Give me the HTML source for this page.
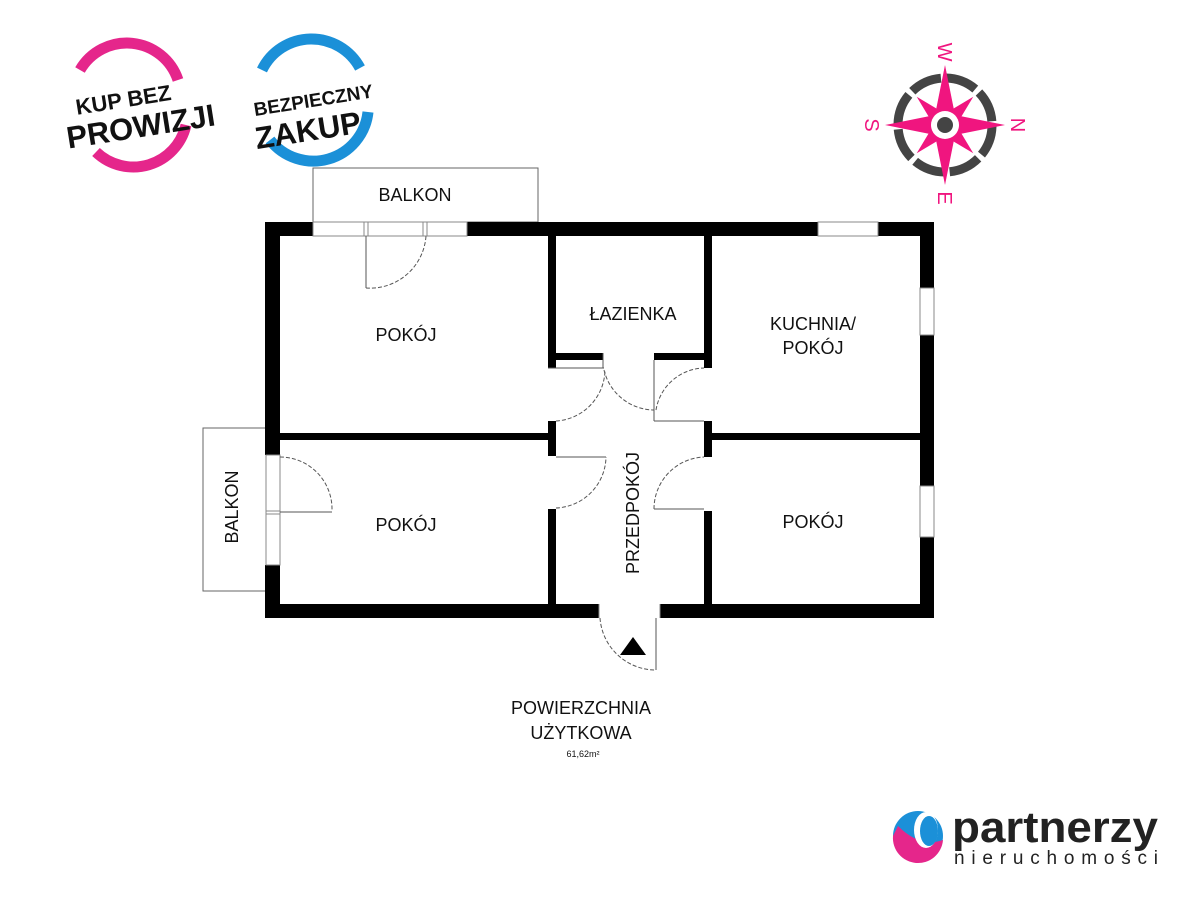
<!DOCTYPE html>
<html><head><meta charset="utf-8"><style>
body{margin:0;background:#fff;}
svg{display:block}
text{font-family:"Liberation Sans",sans-serif;}
</style></head><body>
<svg width="1200" height="900" viewBox="0 0 1200 900" xmlns="http://www.w3.org/2000/svg">
<rect width="1200" height="900" fill="#fff"/>
<!-- logos -->
<g>
<path d="M80,70 A54,54 0 0 1 178,80" fill="none" stroke="#e5268b" stroke-width="11"/>
<path d="M186,125 A54,54 0 0 1 96,152" fill="none" stroke="#e5268b" stroke-width="11"/>
<g transform="rotate(-9 127 110)">
<text x="125" y="107" font-size="22" font-weight="bold" text-anchor="middle" fill="#111">KUP BEZ</text>
<text x="138" y="139" font-size="31" font-weight="bold" text-anchor="middle" fill="#111">PROWIZJI</text>
</g>
<path d="M262,70 A55,55 0 0 1 360,68" fill="none" stroke="#1b90d8" stroke-width="11"/>
<path d="M368,112 A55,55 0 0 1 270,140" fill="none" stroke="#1b90d8" stroke-width="11"/>
<g transform="rotate(-9 312 105)">
<text x="314" y="107" font-size="19" font-weight="bold" text-anchor="middle" fill="#111">BEZPIECZNY</text>
<text x="304" y="140" font-size="31" font-weight="bold" text-anchor="middle" fill="#111">ZAKUP</text>
</g>
</g>
<!-- compass -->
<g transform="translate(945,125)">
<circle r="47" fill="none" stroke="#444" stroke-width="9" stroke-dasharray="32 5"/>
<polygon points="0,-60 10,-10 0,0 -10,-10" fill="#f0157f"/>
<polygon points="0,-60 10,-10 0,0 -10,-10" fill="#f0157f" transform="rotate(90)"/>
<polygon points="0,-60 10,-10 0,0 -10,-10" fill="#f0157f" transform="rotate(180)"/>
<polygon points="0,-60 10,-10 0,0 -10,-10" fill="#f0157f" transform="rotate(270)"/>
<polygon points="0,-40 8,-8 0,0 -8,-8" fill="#f0157f" transform="rotate(45)"/>
<polygon points="0,-40 8,-8 0,0 -8,-8" fill="#f0157f" transform="rotate(135)"/>
<polygon points="0,-40 8,-8 0,0 -8,-8" fill="#f0157f" transform="rotate(225)"/>
<polygon points="0,-40 8,-8 0,0 -8,-8" fill="#f0157f" transform="rotate(315)"/>
<circle r="14" fill="#fff"/><circle r="8" fill="#444"/>
<g font-size="20" fill="#f0157f" text-anchor="middle">
<text transform="translate(0,-73) rotate(90)" y="7">W</text>
<text transform="translate(0,73) rotate(90)" y="7">E</text>
<text transform="translate(-73,0) rotate(90)" y="7">S</text>
<text transform="translate(73,0) rotate(90)" y="7">N</text>
</g>
</g>
<!-- balconies -->
<rect x="313" y="168" width="225" height="54" fill="none" stroke="#666" stroke-width="1"/>
<rect x="203" y="428" width="63" height="163" fill="none" stroke="#666" stroke-width="1"/>
<text x="415" y="201" font-size="18" text-anchor="middle" fill="#111">BALKON</text>
<text x="0" y="0" font-size="18" text-anchor="middle" fill="#111" transform="translate(238,507) rotate(-90)">BALKON</text>
<!-- walls -->
<g fill="#000">
<rect x="265" y="222" width="48" height="14"/>
<rect x="467" y="222" width="351" height="14"/>
<rect x="878" y="222" width="56" height="14"/>
<rect x="265" y="222" width="15" height="233"/>
<rect x="265" y="565" width="15" height="53"/>
<rect x="265" y="604" width="334" height="14"/>
<rect x="660" y="604" width="274" height="14"/>
<rect x="920" y="222" width="14" height="66"/>
<rect x="920" y="335" width="14" height="151"/>
<rect x="920" y="537" width="14" height="81"/>
<rect x="548" y="236" width="8" height="132"/>
<rect x="548" y="421" width="8" height="35"/>
<rect x="548" y="509" width="8" height="96"/>
<rect x="704" y="236" width="8" height="132"/>
<rect x="704" y="421" width="8" height="36"/>
<rect x="704" y="511" width="8" height="94"/>
<rect x="556" y="353" width="47" height="7"/>
<rect x="654" y="353" width="50" height="7"/>
<rect x="280" y="433" width="268" height="7"/>
<rect x="712" y="433" width="208" height="7"/>
</g>
<!-- window lines -->
<g fill="none" stroke="#888" stroke-width="1">
<rect x="313" y="222" width="154" height="14"/>
<line x1="364" y1="222" x2="364" y2="236"/><line x1="368" y1="222" x2="368" y2="236"/>
<line x1="423" y1="222" x2="423" y2="236"/><line x1="427" y1="222" x2="427" y2="236"/>
<rect x="818" y="222" width="60" height="14"/>
<rect x="920" y="288" width="14" height="47"/>
<rect x="920" y="486" width="14" height="51"/>
<rect x="266" y="455" width="14" height="110"/>
<line x1="266" y1="511" x2="280" y2="511"/><line x1="266" y1="514" x2="280" y2="514"/>
<line x1="599" y1="604" x2="599" y2="618"/><line x1="660" y1="604" x2="660" y2="618"/>
</g>
<!-- doors -->
<g fill="none" stroke="#555" stroke-width="1">
<line x1="366" y1="236" x2="366" y2="288"/>
<line x1="280" y1="512" x2="332" y2="512"/>
<line x1="548" y1="368" x2="604" y2="368"/>
<line x1="654" y1="360" x2="654" y2="421"/>
<line x1="654" y1="421" x2="704" y2="421"/>
<line x1="556" y1="457" x2="606" y2="457"/>
<line x1="654" y1="509" x2="704" y2="509"/>
<line x1="656" y1="618" x2="656" y2="670"/>
<line x1="603" y1="353" x2="603" y2="368"/>
</g>
<g fill="none" stroke="#555" stroke-width="1" stroke-dasharray="4 2">
<path d="M366,288 A56,56 0 0 0 426,236"/>
<path d="M280,457 A52,52 0 0 1 332,510"/>
<path d="M556,421 A52,52 0 0 0 605,370"/>
<path d="M604,370 A52,52 0 0 0 654,410"/>
<path d="M656,410 A50,50 0 0 1 704,368"/>
<path d="M556,508 A52,52 0 0 0 606,457"/>
<path d="M654,509 A52,52 0 0 1 704,457"/>
<path d="M600,618 A56,56 0 0 0 656,670"/>
</g>
<polygon points="633,637 646,655 620,655" fill="#000"/>
<!-- labels -->
<g font-size="18" fill="#111" text-anchor="middle">
<text x="406" y="341">POKÓJ</text>
<text x="633" y="320">ŁAZIENKA</text>
<text x="813" y="330">KUCHNIA/</text>
<text x="813" y="354">POKÓJ</text>
<text x="406" y="531">POKÓJ</text>
<text x="813" y="528">POKÓJ</text>
<text x="0" y="0" transform="translate(639,513) rotate(-90)">PRZEDPOKÓJ</text>
<text x="581" y="714">POWIERZCHNIA</text>
<text x="581" y="739">UŻYTKOWA</text>
<text x="583" y="757" font-size="9">61,62m²</text>
</g>
<!-- partnerzy logo -->
<g>
<circle cx="918" cy="836" r="25" fill="#1b90d8"/>
<path d="M893,836 A25,25 0 0 0 943,840 Q920,848 898,826 Z" fill="#e5268b"/>
<ellipse cx="926" cy="830" rx="12" ry="18" fill="#fff"/>
<ellipse cx="929" cy="831" rx="9" ry="15" fill="#1b90d8"/>
<text x="952" y="842" font-size="44" font-weight="bold" fill="#222" textLength="206" lengthAdjust="spacingAndGlyphs">partnerzy</text>
<text x="954" y="864" font-size="19" fill="#222" textLength="204" lengthAdjust="spacing">nieruchomości</text>
</g>
</svg>
</body></html>
